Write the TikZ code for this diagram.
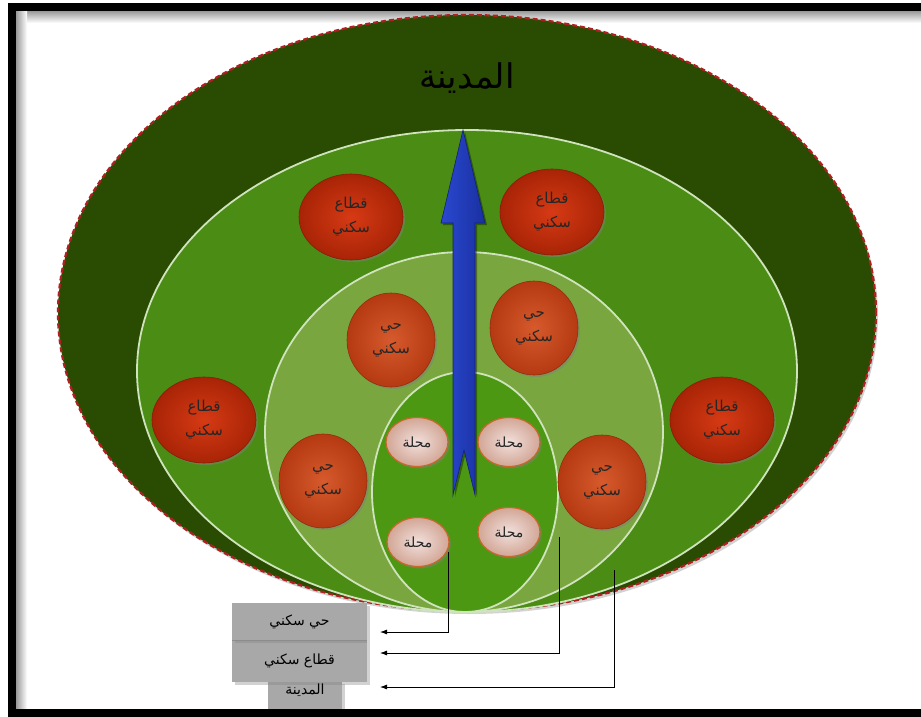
\documentclass[tikz,border=0pt]{standalone}
\usepackage{fontspec}
\newfontfamily\arabicfont[Script=Arabic]{DejaVu Sans}
\TeXXeTstate=1
\usetikzlibrary{shapes.geometric,shadows,arrows.meta}
\newcommand{\artxt}[1]{{\arabicfont\beginR #1\endR}}
\definecolor{cityG}{HTML}{2A4B02}
\definecolor{sectorG}{HTML}{4A8C14}
\definecolor{quarterG}{HTML}{7AA640}
\definecolor{localG}{HTML}{4C9812}
\definecolor{ringline}{HTML}{CFE3BC}
\definecolor{dashred}{HTML}{B02020}
\definecolor{secIn}{HTML}{D63A14}
\definecolor{secOut}{HTML}{A82406}
\definecolor{hayIn}{HTML}{D65A2C}
\definecolor{hayOut}{HTML}{B53A12}
\definecolor{mahIn}{HTML}{F2E0DC}
\definecolor{mahOut}{HTML}{D2A696}
\definecolor{mahLine}{HTML}{C8682A}
\definecolor{blueA}{HTML}{2A48D0}
\definecolor{blueB}{HTML}{1A30A0}
\definecolor{legGray}{HTML}{A8A8A8}
\tikzset{
  ring/.style={ellipse, draw=ringline, line width=1.8pt, inner sep=0pt},
  softshadow/.style={drop shadow={opacity=0.45, shadow xshift=2pt, shadow yshift=-2pt}},
  sector/.style={ellipse, inner sep=0pt, minimum width=104pt, minimum height=86pt,
    inner color=secIn, outer color=secOut, draw=secOut!80!black, line width=0.6pt,
    softshadow, align=center, font=\fontsize{15}{24}\selectfont, text=black!85},
  hay/.style={ellipse, inner sep=0pt, minimum width=88pt, minimum height=94pt,
    inner color=hayIn, outer color=hayOut, draw=hayOut!80!black, line width=0.6pt,
    softshadow, align=center, font=\fontsize{15}{24}\selectfont, text=black!85},
  mahalla/.style={ellipse, inner sep=0pt, minimum width=62pt, minimum height=49pt,
    inner color=mahIn, outer color=mahOut, draw=mahLine, line width=1.2pt,
    softshadow, font=\fontsize{14}{16}\selectfont, text=black!85},
  legbox/.style={rectangle, inner sep=0pt, fill=legGray,
    drop shadow={opacity=0.35, shadow xshift=3pt, shadow yshift=-3pt},
    font=\fontsize{14}{16}\selectfont},
  connector/.style={draw=black, line width=0.8pt, -{Latex[length=7pt,width=5pt]}}
}
\begin{document}
\begin{tikzpicture}[x=1pt,y=-1pt]
\useasboundingbox (0,0) rectangle (921,717);
\begin{scope}
\clip (0,0) rectangle (921,717);
\fill[white] (0,0) rectangle (921,717);
% inner frame shadows
\shade[top color=black!40, bottom color=white] (16,11) rectangle (930,23);
\shade[left color=black!40, right color=white] (16,11) rectangle (27,709);
% ellipses
\node[ellipse, inner sep=0pt, minimum width=818pt, minimum height=596pt, fill=cityG,
  draw=dashred, line width=2.2pt, dash pattern=on 5pt off 3pt,
  drop shadow={opacity=0.35, shadow xshift=2pt, shadow yshift=-3pt}] (city) at (467,313) {};
\node[ring, fill=sectorG, minimum width=660pt, minimum height=482pt] (sectorRing) at (467,371) {};
\node[ring, fill=quarterG, minimum width=398pt, minimum height=360pt] (quarterRing) at (464,432) {};
\node[ring, fill=localG, minimum width=186pt, minimum height=240pt] (localRing) at (465,492) {};
% title
\node[font=\fontsize{34}{36}\selectfont, text=black] (title) at (467,78) {\artxt{المدينة}};
% sector circles
\node[sector] (s1) at (351,217) {\artxt{قطاع}\\\artxt{سكني}};
\node[sector] (s2) at (552,212) {\artxt{قطاع}\\\artxt{سكني}};
\node[sector] (s3) at (204,420) {\artxt{قطاع}\\\artxt{سكني}};
\node[sector] (s4) at (722,420) {\artxt{قطاع}\\\artxt{سكني}};
% hay circles
\node[hay] (h1) at (391,340) {\artxt{حي}\\\artxt{سكني}};
\node[hay] (h2) at (534,328) {\artxt{حي}\\\artxt{سكني}};
\node[hay] (h3) at (323,481) {\artxt{حي}\\\artxt{سكني}};
\node[hay] (h4) at (602,482) {\artxt{حي}\\\artxt{سكني}};
% mahalla
\node[mahalla] (m1) at (417,442) {\artxt{محلة}};
\node[mahalla] (m2) at (509,442) {\artxt{محلة}};
\node[mahalla] (m3) at (418,542) {\artxt{محلة}};
\node[mahalla] (m4) at (509,532) {\artxt{محلة}};
% blue arrow
\fill[black, opacity=0.35] (465,132) -- (487,225) -- (477,225) -- (477,497) -- (466,452) -- (455,497) -- (455,225) -- (443,225) -- cycle;
\path[left color=blueA, right color=blueB, draw=blueB!70!black, line width=0.6pt]
  (463,130) -- (485,223) -- (475,223) -- (475,495) -- (464,450) -- (453,495) -- (453,223) -- (441,223) -- cycle;
% legend
\node[legbox, minimum width=74pt, minimum height=28pt] (box3) at (305,695) {};
\node[legbox, minimum width=135pt, minimum height=42pt] (box2) at (299.5,661) {\artxt{قطاع سكني}};
\node[legbox, minimum width=135pt, minimum height=37pt] (box1) at (299.5,621.5) {\artxt{حي سكني}};
\node[font=\fontsize{14}{16}\selectfont] (box3txt) at (305,690) {\artxt{المدينة}};
\draw[black!45, line width=0.8pt] (box1.south west) -- (box1.south east);
% connectors
\coordinate (c1) at (448,552);
\coordinate (c2) at (559,537);
\coordinate (c3) at (614,570);
\coordinate (e1) at (380,632);
\coordinate (e2) at (380,653);
\coordinate (e3) at (380,687);
\draw[connector] (c1) |- (e1);
\draw[connector] (c2) |- (e2);
\draw[connector] (c3) |- (e3);
% frame
\draw[black, line width=8pt] (12,7) -- (940,7);
\draw[black, line width=8pt] (12,3) -- (12,713);
\draw[black, line width=8pt] (8,713) -- (940,713);
\end{scope}
\end{tikzpicture}
\end{document}
